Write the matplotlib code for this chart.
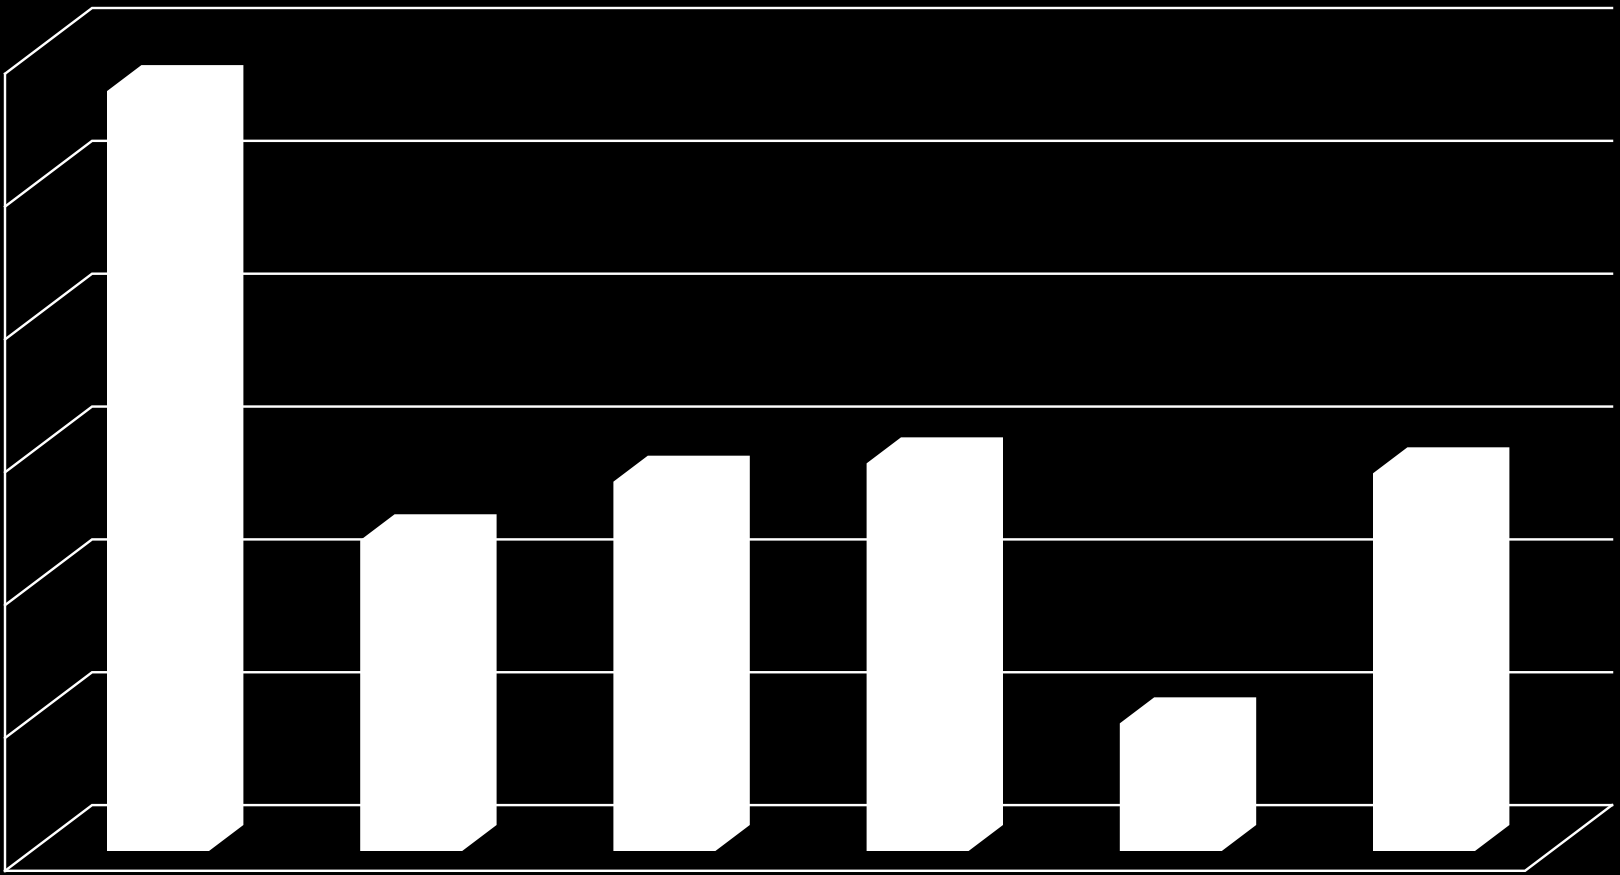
import matplotlib
matplotlib.use("Agg")
import matplotlib.pyplot as plt

categories = ["A", "B", "C", "D", "E", "F"]
values = [5.72, 2.339, 2.78, 2.918, 0.961, 2.843]
grid_levels = [0, 1, 2, 3, 4, 5, 6]

W, H = 1620, 875
BG = "black"
FG = "white"

# Oblique projection (in data units)
PX_X = 253.2         # px per category
PX_Y = 132.85        # px per value unit
Y0 = 870.8           # pixel row of value 0 on the front plane
depth_x = 87 / PX_X
depth_y = 65.7 / PX_Y
bar_w = 102 / PX_X
bar_dx = 34.4 / PX_X
bar_dy = 26 / PX_Y
base_y = (Y0 - 851) / PX_Y   # bar base offset on floor
x_left = -0.604
x_right = 5.399

fig = plt.figure(figsize=(W / 100, H / 100), dpi=100, facecolor=BG)
ax = fig.add_axes([0, 0, 1, 1])
ax.set_facecolor(BG)
ax.set_xlim((0 - 158) / PX_X, (W - 158) / PX_X)
ax.set_ylim((Y0 - H) / PX_Y, Y0 / PX_Y)
ax.axis("off")

lw = 1.75
for lv in grid_levels:
    ax.plot([x_left, x_left + depth_x, x_right + depth_x],
            [lv, lv + depth_y, lv + depth_y],
            color=FG, lw=lw, solid_joinstyle="miter", zorder=1)

ax.plot([x_left, x_left], [grid_levels[0], grid_levels[-1]], color=FG, lw=lw, zorder=1)
ax.plot([x_left, x_right, x_right + depth_x],
        [0, 0, depth_y], color=FG, lw=lw, solid_joinstyle="miter", zorder=1)

for i, v in enumerate(values):
    xl = i - bar_w / 2
    xr = i + bar_w / 2
    xs = [xl, xr, xr + bar_dx, xr + bar_dx, xl + bar_dx, xl]
    ys = [base_y, base_y, base_y + bar_dy, base_y + v + bar_dy, base_y + v + bar_dy, base_y + v]
    ax.fill(xs, ys, facecolor=FG, edgecolor="none", zorder=2)

fig.savefig("out.png", dpi=100, facecolor=BG)
